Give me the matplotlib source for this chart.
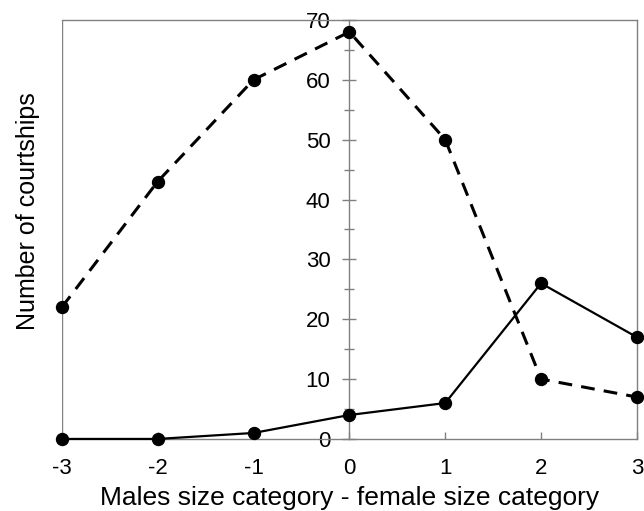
import matplotlib.pyplot as plt
from matplotlib.ticker import MultipleLocator

plt.rcParams['font.family'] = ['Liberation Sans', 'DejaVu Sans']
plt.rcParams['axes.unicode_minus'] = False

# Dados
size_diff = [-3, -2, -1, 0, 1, 2, 3]
courtships_dashed = [22, 43, 60, 68, 50, 10, 7]
courtships_solid = [0, 0, 1, 4, 6, 26, 17]

frame_color = '#808080'

fig = plt.figure(figsize=(6.44, 5.11), dpi=100)
ax = fig.add_axes([0.096, 0.141, 0.893, 0.820])

ax.plot(size_diff, courtships_dashed, color='black', lw=2.2, linestyle=(0, (4.5, 3)),
        marker='o', markersize=8.6, clip_on=False, zorder=3)
ax.plot(size_diff, courtships_solid, color='black', lw=1.6,
        marker='o', markersize=8.6, clip_on=False, zorder=3)

ax.set_xlim(-3, 3)
ax.set_ylim(0, 70)

# Eixo y no centro (x = 0) e moldura à esquerda
ax.spines['left'].set_position(('data', 0))
ax.axvline(-3, color=frame_color, lw=1, zorder=1)
for s in ax.spines.values():
    s.set_color(frame_color)
    s.set_linewidth(1)

ax.yaxis.set_major_locator(MultipleLocator(10))
ax.yaxis.set_minor_locator(MultipleLocator(5))
ax.tick_params(axis='y', which='major', direction='inout', length=10, width=1,
               color=frame_color, labelsize=16, pad=8.5)
ax.tick_params(axis='y', which='minor', direction='inout', length=6.5, width=1,
               color=frame_color)
ax.tick_params(axis='x', which='major', direction='in', length=5, width=1,
               color=frame_color, labelsize=16, pad=14)

ax.set_xlabel('Males size category - female size category', fontsize=19, labelpad=5)
ax.set_ylabel('Number of courtships', fontsize=18)
ax.yaxis.set_label_coords(-0.038, 0.544)

fig.savefig('out.png', dpi=100)
